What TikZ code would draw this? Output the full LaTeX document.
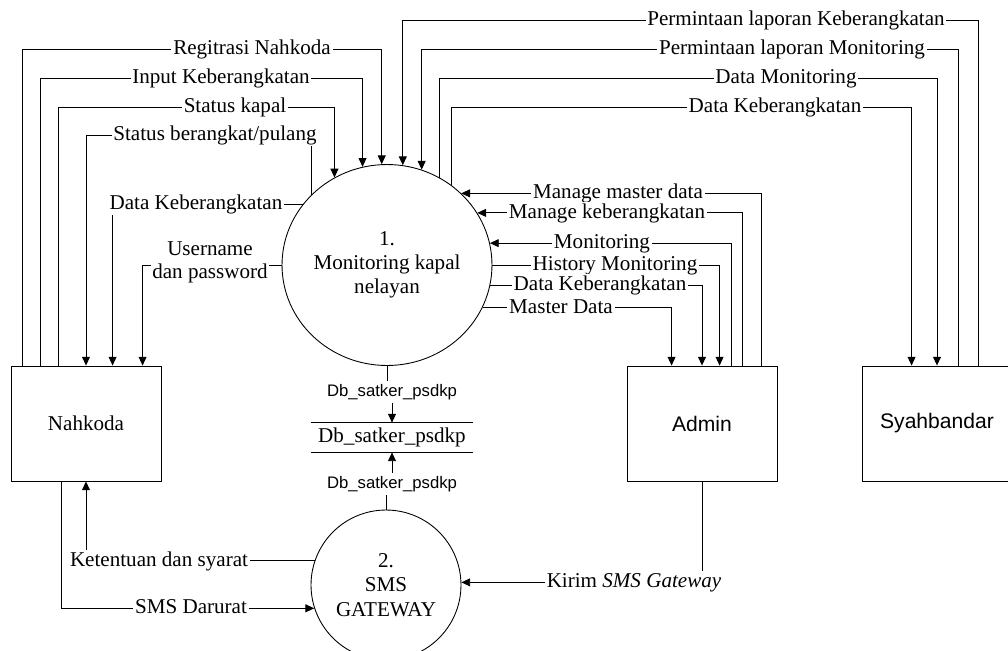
\documentclass[tikz,border=0pt]{standalone}
\usepackage{fontspec}
\setmainfont{Liberation Serif}
\newfontfamily\helvfont{Liberation Sans}
\usetikzlibrary{calc,arrows.meta,shapes.geometric}
\tikzset{
	line/.style={line width=0.5pt},
	flow/.style={line width=0.5pt, -{Triangle[length=5pt,width=4.5pt]}},
	entity/.style={draw, line width=0.5pt, minimum width=3cm, minimum height=2.3cm, font=\fontsize{12}{14}\selectfont},
	process/.style={draw, line width=0.5pt, inner sep=0pt},
	proctext/.style={align=center, font=\fontsize{12}{13.8}\selectfont},
	tag/.style={fill=white, inner sep=1pt, text height=8.5pt, text depth=2.5pt, font=\fontsize{12}{13.5}\selectfont},
	tagtwo/.style={fill=white, inner sep=1pt, align=center, font=\fontsize{12}{13.2}\selectfont},
	dbtag/.style={inner sep=1.5pt, font=\helvfont\fontsize{9.5}{11}\selectfont}
}

\begin{document}
\begin{tikzpicture}[x=0.02cm, y=-0.02cm]
			%%%%% START %%%%%
			\useasboundingbox (0,0) rectangle (1008,650);
			
			\node[entity] (nahkoda) at (86,423.5) {Nahkoda};
			\node[entity, font=\helvfont\fontsize{12}{14}\selectfont] (admin) at (702,423.5) {Admin};
			\node[entity, font=\helvfont\fontsize{12}{14}\selectfont] (syahbandar) at (937,423.5) {Syahbandar};
			
			\node[process, ellipse, minimum width=4.2cm, minimum height=4.02cm] (proses1) at (387,265) {};
			\node[proctext] (proses1text) at (proses1) {1.\\Monitoring kapal\\nelayan};
			\node[process, circle, minimum size=3cm] (proses2) at (386,585) {};
			\node[proctext] (proses2text) at (proses2) {2.\\SMS\\GATEWAY};
			
			\node[minimum width=3.24cm, minimum height=0.58cm, inner sep=0pt, font=\fontsize{12}{14}\selectfont] (store) at (392,437.5) {Db\_satker\_psdkp};
			\draw[line] (store.north west) -- (store.north east) (store.south west) -- (store.south east);
			\node[dbtag] (db1) at (392,392) {Db\_satker\_psdkp};
			\node[dbtag] (db2) at (392,484) {Db\_satker\_psdkp};
			
			% nahkoda <-> proses 1
			\draw[flow] ($(nahkoda.north west)+(12,0)$) |- (proses1.93 |- 0,49) -- (proses1.93);
			\draw[flow] ($(nahkoda.north west)+(30,0)$) |- (proses1.104 |- 0,78) -- (proses1.104);
			\draw[flow] ($(nahkoda.north west)+(48,0)$) |- (proses1.121 |- 0,107) -- (proses1.121);
			\draw[flow] (proses1.137) |- (nahkoda.north |- 0,135) -- (nahkoda.north);
			\draw[flow] (proses1.144) -| ($(nahkoda.north west)+(102,0)$);
			\draw[flow] (proses1.west) -| ($(nahkoda.north west)+(132,0)$);
			
			% syahbandar <-> proses 1
			\draw[flow] ($(syahbandar.north west)+(117,0)$) |- (proses1.81 |- 0,20) -- (proses1.81);
			\draw[flow] ($(syahbandar.north west)+(97,0)$) |- (proses1.70 |- 0,49) -- (proses1.70);
			\draw[flow] (proses1.59) |- (syahbandar.north |- 0,78) -- (syahbandar.north);
			\coordinate (syahDK) at ($(syahbandar.north west)+(50,0)$);
			\draw[flow] (proses1.51) |- (syahDK |- 0,107) -- (syahDK);
			
			% admin <-> proses 1
			\draw[flow] ($(admin.north west)+(135,0)$) |- (proses1.44);
			\draw[flow] ($(admin.north west)+(116,0)$) |- (proses1.30);
			\draw[flow] ($(admin.north west)+(105,0)$) |- (proses1.12);
			\draw[flow] (proses1.east) -| ($(admin.north west)+(93,0)$);
			\draw[flow] (proses1.349) -| (admin.north);
			\draw[flow] (proses1.336) -| ($(admin.north west)+(45,0)$);
			
			% data store
			\draw[line] (proses1.south) -- (proses1.south |- db1.north);
			\draw[flow] (db1.south) -- (db1.south |- store.north);
			\draw[line] (proses2.north) -- (proses2.north |- db2.south);
			\draw[flow] (db2.north) -- (db2.north |- store.south);
			
			% proses 2
			\draw[flow] (proses2.161) -| (nahkoda.south);
			\draw[flow] ($(nahkoda.south west)+(51,0)$) |- (proses2.198);
			\draw[flow] (admin.south) |- (proses2.2);
			
			% labels
			\node[tag] (lRegistrasi) at (252,49) {Regitrasi Nahkoda};
			\node[tag] (lInput) at (221,78) {Input Keberangkatan};
			\node[tag] (lStatusKapal) at (235,107) {Status kapal};
			\node[tag] (lStatusBerangkat) at (215,135) {Status berangkat/pulang};
			\node[tag] (lDataKbNahkoda) at (196,204) {Data Keberangkatan};
			\node[tagtwo] (lLogin) at (210,262) {Username\\dan password};
			
			\node[tag] (lPermKb) at (796,20) {Permintaan laporan Keberangkatan};
			\node[tag] (lPermMon) at (792,49) {Permintaan laporan Monitoring};
			\node[tag] (lDataMon) at (786,78) {Data Monitoring};
			\node[tag] (lDataKbSyah) at (775,107) {Data Keberangkatan};
			
			\node[tag] (lManageMaster) at (618,193) {Manage master data};
			\node[tag] (lManageKb) at (607,213) {Manage keberangkatan};
			\node[tag] (lMonitoring) at (602,243) {Monitoring};
			\node[tag] (lHistory) at (615,265) {History Monitoring};
			\node[tag] (lDataKbAdmin) at (600,285) {Data Keberangkatan};
			\node[tag] (lMasterData) at (561,308) {Master Data};
			
			\node[tag] (lKetentuan) at (159,561) {Ketentuan dan syarat};
			\node[tag] (lDarurat) at (191,608) {SMS Darurat};
			\node[tag] (lKirim) at (634,582) {Kirim \textit{SMS Gateway}};
			
			%%%%% END %%%%%
\end{tikzpicture}
\end{document}
